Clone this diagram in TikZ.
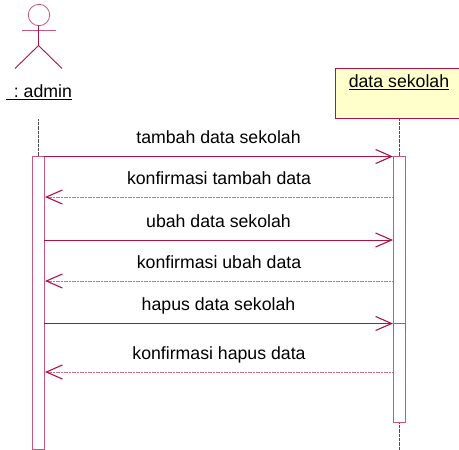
\documentclass[tikz,border=0pt]{standalone}
\usepackage{fontspec}
\usepackage{xcolor}
\setmainfont{Liberation Sans}
\usetikzlibrary{arrows.meta}

\definecolor{umlline}{HTML}{AE1048}
\definecolor{umlnote}{HTML}{FFFFCC}

\tikzset{
  lifeline/.style={black!70, dash pattern=on 1pt off 0.3pt, line width=0.8pt},
  actvbox/.style={draw=umlline!70, fill=white, line width=1pt},
  callmsg/.style={umlline, line width=1pt, -{Straight Barb[length=16pt,width=14pt,line width=1.1pt]}},
  backmsg/.style={umlline!60, line width=0.9pt, dash pattern=on 1.2pt off 0.4pt, -{Straight Barb[length=16pt,width=14pt,line width=1.1pt,color=umlline]}},
  msgtext/.style={midway, above, text=black, font=\fontsize{17.7}{20}\selectfont, text height=12.5pt, text depth=0pt, inner sep=0pt, yshift=12.5pt},
}

\begin{document}
\begin{tikzpicture}[x=1pt,y=-1pt]
  \useasboundingbox (0,0) rectangle (459,450);

  \coordinate (AT) at (38.5,119);
  \coordinate (AB) at (38.5,156);
  \coordinate (DT) at (399,119);
  \coordinate (DB) at (399,156);
  \coordinate (DE) at (399,422);
  \coordinate (DF) at (399,450);

  % actor
  \draw[umlline!70, line width=0.8pt] (39,15) circle (10.7);
  \draw[umlline!70, line width=1.4pt] (21.5,30.5) -- (55.5,30.5);
  \draw[umlline, line width=0.9pt] (38.5,25.5) -- (38.5,45.5) -- (15,68.5);
  \draw[umlline, line width=0.9pt] (38.5,45.5) -- (62,68.5);
  \node[font=\fontsize{17.7}{20}\selectfont, inner sep=0pt] (admin) at (39,92) {\underline{\ \,:\ admin}};

  % object box
  \node[draw=umlline, fill=umlnote, line width=0.9pt, minimum width=130pt, minimum height=50pt, inner sep=0pt, anchor=north west] (sekolah) at (334.5,67.5) {};
  \node[font=\fontsize{17.7}{20}\selectfont, inner sep=0pt] (sekolahtext) at (399,82.5) {\underline{data sekolah}};

  \draw[lifeline] (AT) -- (AB);
  \draw[lifeline] (DT) -- (DB);
  \draw[lifeline] (DE) -- (DF);

  \draw[actvbox] (32,156) rectangle (44,449);
  \draw[actvbox] (393,156) rectangle (405,422);
  \draw[umlline!75, line width=0.9pt] (393,323) -- (405,323);% split on the bar
  \draw[umlline!75, line width=0.9pt] (393,323) -- (393,332);
  \draw[umlline!75, line width=0.9pt] (405,323) -- (405,332);

  \coordinate (A1) at (44,156.5);
  \coordinate (D1) at (393,156.5);
  \coordinate (A2) at (45,197);
  \coordinate (D2) at (393,197);
  \coordinate (A3) at (44,240);
  \coordinate (D3) at (393,240);
  \coordinate (A4) at (45,281);
  \coordinate (D4) at (393,281);
  \coordinate (A5) at (44,323.5);
  \coordinate (D5) at (393,323.5);
  \coordinate (A6) at (45,372);
  \coordinate (D6) at (393,372);

  \draw[callmsg] (A1) -- (D1) node[msgtext] (m1) {tambah data sekolah};
  \draw[backmsg] (D2) -- (A2) node[msgtext] (m2) {konfirmasi tambah data};
  \draw[callmsg] (A3) -- (D3) node[msgtext] (m3) {ubah data sekolah};
  \draw[backmsg] (D4) -- (A4) node[msgtext] (m4) {konfirmasi ubah data};
  \draw[callmsg] (A5) -- (D5) node[msgtext] (m5) {hapus data sekolah};
  \draw[backmsg] (D6) -- (A6) node[msgtext] (m6) {konfirmasi hapus data};
\end{tikzpicture}
\end{document}
